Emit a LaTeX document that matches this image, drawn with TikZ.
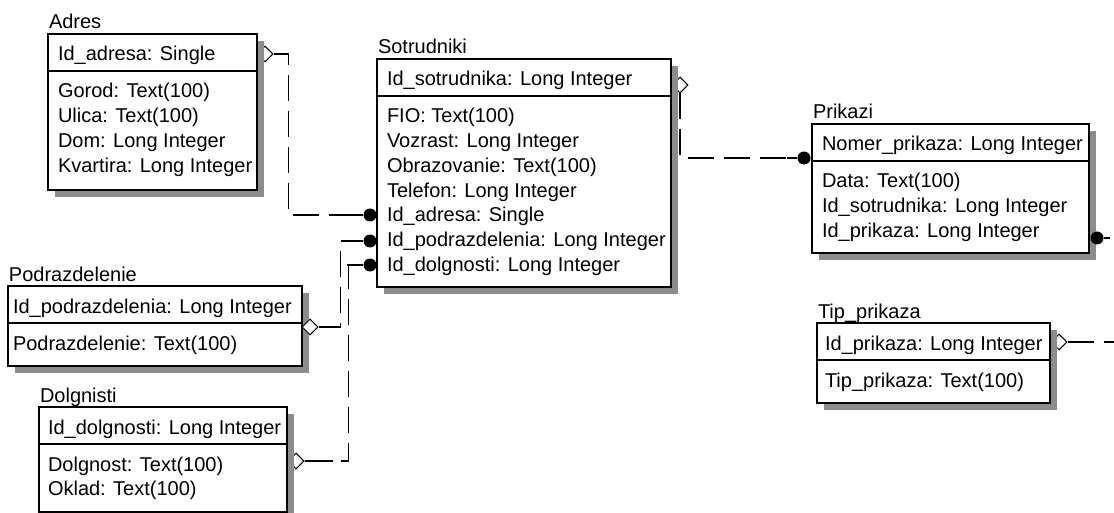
\documentclass[tikz,border=0pt]{standalone}
\usepackage{fontspec}
\setmainfont{Liberation Sans}
\usetikzlibrary{shapes.geometric,shadows}
\pgfdeclarelayer{bg}
\pgfdeclarelayer{conn}
\pgfsetlayers{bg,conn,main}
\tikzset{
  erbox/.style={draw, fill=white, line width=1.2pt, inner sep=0pt, outer sep=0pt, anchor=north west,
    drop shadow={shadow xshift=7pt, shadow yshift=-7pt, fill=black!45, opacity=1, draw=none}},
  ertext/.style={anchor=base west, inner sep=0pt, outer sep=0pt},
  ertitle/.style={anchor=base west, inner sep=0pt, outer sep=0pt},
  erdot/.style={circle, fill=black, inner sep=0pt, minimum size=13pt},
  erdia/.style={diamond, draw, fill=white, line width=1pt, inner sep=0pt, minimum width=16pt, minimum height=16pt},
  erline/.style={line width=1.1pt},
  erdash/.style={dash pattern=on 26pt off 10pt}
}
% #1 name, #2 left, #3 top, #4 right, #5 bottom, #6 text inset, #7 title, #8 key, #9 attributes
\newcommand{\erent}[9]{%
  \pgfmathsetmacro\erW{#4-#2}%
  \pgfmathsetmacro\erH{#5-#3-37}%
  \node[ertitle] (#1-title) at (#2+1,#3-5) {#7};
  \node[erbox, minimum width=\erW pt, minimum height=37pt] (#1-key) at (#2,#3) {};
  \node[erbox, minimum width=\erW pt, minimum height=\erH pt] (#1-attr) at (#1-key.south west) {};
  \node[ertext] (#1-k) at (#2+#6,#3+27) {#8};
  \foreach \erattr [count=\ern] in {#9} {
    \node[ertext] (#1-r\ern) at (#2+#6,#3+64+24.75*\ern-24.75) {\erattr};
  }
}
\begin{document}
\begin{tikzpicture}[x=1pt,y=-1pt,font=\fontsize{20}{24}\selectfont]
\begin{pgfonlayer}{bg}
\fill[white] (0,0) rectangle (1114,513);
\end{pgfonlayer}
\useasboundingbox (0,0) rectangle (1114,513);

\erent{adres}{48}{34}{257}{190}{10}{Adres}{Id\_adresa: Single}
  {Gorod: Text(100), Ulica: Text(100), Dom: Long Integer, Kvartira: Long Integer}
\erent{sotr}{377}{59}{671}{287}{10}{Sotrudniki}{Id\_sotrudnika: Long Integer}
  {FIO: Text(100), Vozrast: Long Integer, Obrazovanie: Text(100), Telefon: Long Integer,
   Id\_adresa: Single, Id\_podrazdelenia: Long Integer, Id\_dolgnosti: Long Integer}
\erent{prik}{812}{124}{1089}{253}{10}{Prikazi}{Nomer\_prikaza: Long Integer}
  {Data: Text(100), Id\_sotrudnika: Long Integer, Id\_prikaza: Long Integer}
\erent{podr}{8}{286}{302}{366}{5}{Podrazdelenie}{Id\_podrazdelenia: Long Integer}
  {Podrazdelenie: Text(100)}
\erent{dolg}{39}{407}{287}{512}{9}{Dolgnisti}{Id\_dolgnosti: Long Integer}
  {Dolgnost: Text(100), Oklad: Text(100)}
\erent{tip}{817}{323}{1050}{403}{8}{Tip\_prikaza}{Id\_prikaza: Long Integer}
  {Tip\_prikaza: Text(100)}

\node[erdot] (p1) at (370,215) {};
\node[erdot] (p2) at (370,241) {};
\node[erdot] (p3) at (370,265) {};
\node[erdot] (p4) at (804,158) {};
\node[erdot] (p5) at (1097,238) {};
\node[erdia] (d2) at (310,327) {};

\begin{pgfonlayer}{conn}
\node[erdia] (d1) at (265,54) {};
\node[erdia] (d3) at (296,461) {};
\node[erdia] (d4) at (680,85) {};
\node[erdia] (d6) at (1059,342) {};
\coordinate (e5) at (1110,238);
\coordinate (e6) at (1116,342);

% Adres -> Sotrudniki
\draw[erline,erdash] (d1.east) -- ++(15,0) |- (p1.west);
\draw[erline] (d1.east) -- ++(15,0);
\draw[erline] (p1.west) -- ++(-12,0);
% Podrazdelenie -> Sotrudniki
\draw[erline,erdash] (d2.east) -- ++(22,0) |- (p2.west);
\draw[erline] (d2.east) -- ++(22,0);
\draw[erline] (p2.west) -- ++(-16,0);
% Dolgnisti -> Sotrudniki
\draw[erline,erdash] (d3.east) -- ++(44,0) |- (p3.west);
\draw[erline] (d3.east) -- ++(28,0);
\draw[erline] (p3.west) -- ++(-16,0);
% Sotrudniki -> Prikazi
\draw[erline,erdash] (d4.south) |- (p4.west);
\draw[erline] (d4.south) -- ++(0,12);
\draw[erline] (p4.west) -- ++(-10,0);
% Prikazi -> (off picture)
\draw[erline] (p5.east) -- (e5);
% Tip_prikaza -> (off picture)
\draw[erline,erdash] (d6.east) -- (e6);
\end{pgfonlayer}
\end{tikzpicture}
\end{document}
